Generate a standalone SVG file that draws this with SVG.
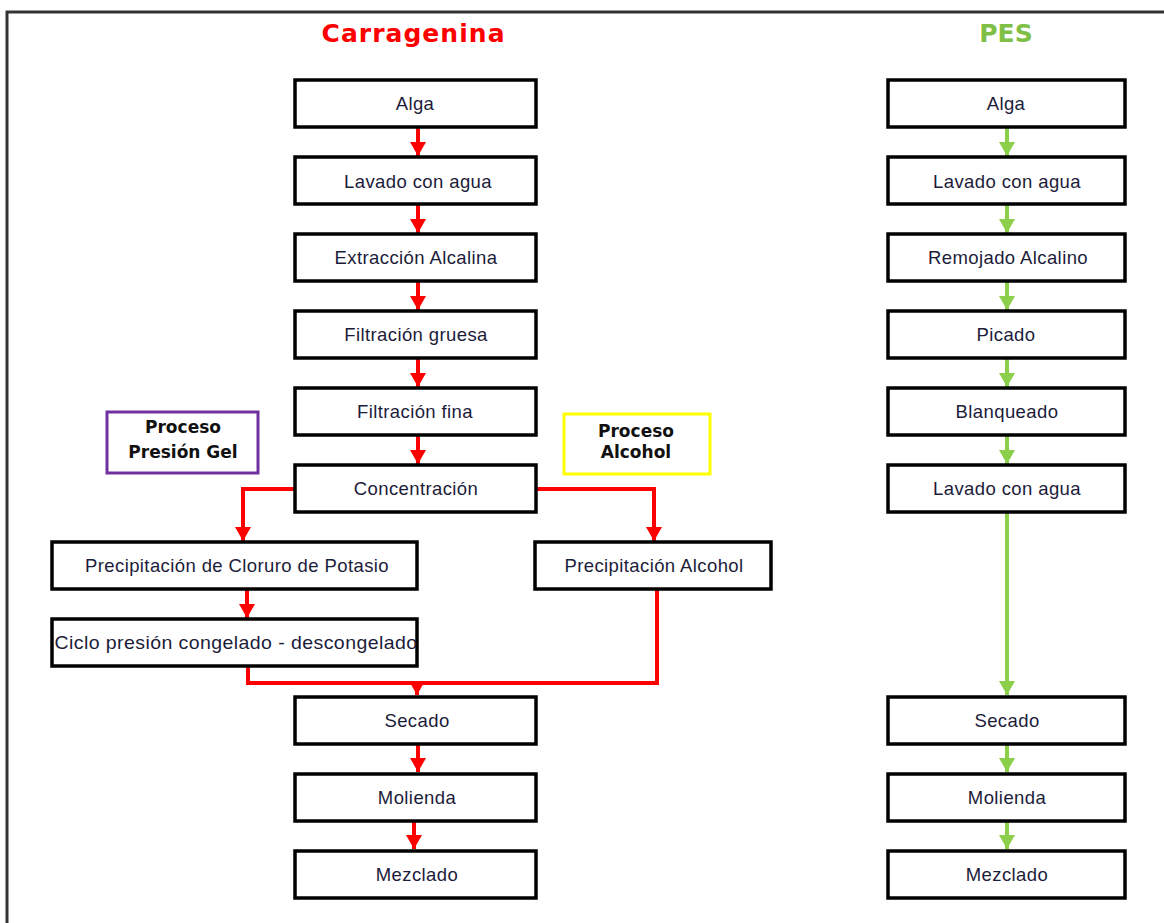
<svg xmlns="http://www.w3.org/2000/svg" width="1164" height="923" viewBox="0 0 1164 923">
<style>
.box{fill:#fff;stroke:#000;stroke-width:3.5}
.t{font-family:"Liberation Sans",Arial,sans-serif;font-size:18.5px;fill:#1c1c3a;text-anchor:middle;letter-spacing:0.4px}
.b{font-family:"DejaVu Sans",Verdana,sans-serif;font-weight:bold;font-size:17px;fill:#111;text-anchor:middle}
.red{fill:none;stroke:#ff0000;stroke-width:4}
.grn{fill:none;stroke:#8ccf4a;stroke-width:4}
</style>
<defs>
<marker id="ar" markerUnits="userSpaceOnUse" markerWidth="16" markerHeight="16" refX="14" refY="8" orient="auto">
<path d="M0,0 L14,8 L0,16 Z" fill="#ff0000"/>
</marker>
<marker id="ag" markerUnits="userSpaceOnUse" markerWidth="16" markerHeight="18" refX="14" refY="8" orient="auto">
<path d="M0,0 L14,8 L0,16 Z" fill="#8ccf4a"/>
</marker>
</defs>
<rect x="0" y="0" width="1164" height="923" fill="#fff"/>
<rect x="7" y="12" width="1180" height="930" fill="none" stroke="#333" stroke-width="3"/>
<text x="413" y="42" font-family="'DejaVu Sans',Verdana,sans-serif" font-weight="bold" font-size="25" fill="#ff0000" text-anchor="middle" textLength="183">Carragenina</text>
<text x="1006" y="42" font-family="'DejaVu Sans',Verdana,sans-serif" font-weight="bold" font-size="25" fill="#7fbf45" text-anchor="middle">PES</text>

<g id="connectors">
<line class="red" x1="418" y1="127" x2="418" y2="156" marker-end="url(#ar)"/>
<line class="red" x1="418" y1="204" x2="418" y2="233" marker-end="url(#ar)"/>
<line class="red" x1="418" y1="281" x2="418" y2="310" marker-end="url(#ar)"/>
<line class="red" x1="418" y1="358" x2="418" y2="387" marker-end="url(#ar)"/>
<line class="red" x1="418" y1="435" x2="418" y2="464" marker-end="url(#ar)"/>
<polyline class="red" points="295,489 243,489 243,541" marker-end="url(#ar)"/>
<polyline class="red" points="537,489 654,489 654,541" marker-end="url(#ar)"/>
<line class="red" x1="247" y1="590" x2="247" y2="618" marker-end="url(#ar)"/>
<polyline class="red" points="248,667 248,683 657,683 657,590"/>
<line class="red" x1="417" y1="683" x2="417" y2="695" marker-end="url(#ar)"/>
<line class="red" x1="418" y1="743" x2="418" y2="772" marker-end="url(#ar)"/>
<line class="red" x1="414" y1="820" x2="414" y2="849" marker-end="url(#ar)"/>

<line class="grn" x1="1007" y1="127" x2="1007" y2="156" marker-end="url(#ag)"/>
<line class="grn" x1="1007" y1="204" x2="1007" y2="233" marker-end="url(#ag)"/>
<line class="grn" x1="1007" y1="281" x2="1007" y2="310" marker-end="url(#ag)"/>
<line class="grn" x1="1007" y1="358" x2="1007" y2="387" marker-end="url(#ag)"/>
<line class="grn" x1="1007" y1="435" x2="1007" y2="464" marker-end="url(#ag)"/>
<line class="grn" x1="1007" y1="512" x2="1007" y2="695" marker-end="url(#ag)"/>
<line class="grn" x1="1007" y1="743" x2="1007" y2="772" marker-end="url(#ag)"/>
<line class="grn" x1="1007" y1="820" x2="1007" y2="849" marker-end="url(#ag)"/>
</g>

<g id="c-alga"><rect class="box" x="295" y="80" width="241" height="47"/><text class="t" x="415" y="110">Alga</text></g>
<g id="c-lavado"><rect class="box" x="295" y="157" width="241" height="47"/><text class="t" x="418" y="188">Lavado con agua</text></g>
<g id="c-extraccion"><rect class="box" x="295" y="234" width="241" height="47"/><text class="t" x="416" y="264">Extracción Alcalina</text></g>
<g id="c-fgruesa"><rect class="box" x="295" y="311" width="241" height="47"/><text class="t" x="416" y="341">Filtración gruesa</text></g>
<g id="c-ffina"><rect class="box" x="295" y="388" width="241" height="47"/><text class="t" x="415" y="418">Filtración fina</text></g>
<g id="c-concentracion"><rect class="box" x="295" y="465" width="241" height="47"/><text class="t" x="416" y="495">Concentración</text></g>
<g id="c-precip-kcl"><rect class="box" x="52" y="542" width="365" height="47"/><text class="t" x="237" y="572">Precipitación de Cloruro de Potasio</text></g>
<g id="c-ciclo"><rect class="box" x="52" y="619" width="365" height="47"/><text class="t" x="236" y="649" textLength="363" lengthAdjust="spacingAndGlyphs">Ciclo presión congelado - descongelado</text></g>
<g id="c-precip-alc"><rect class="box" x="535" y="542" width="236" height="47"/><text class="t" x="654" y="572">Precipitación Alcohol</text></g>
<g id="c-secado"><rect class="box" x="295" y="697" width="241" height="47"/><text class="t" x="417" y="727">Secado</text></g>
<g id="c-molienda"><rect class="box" x="295" y="774" width="241" height="47"/><text class="t" x="417" y="804">Molienda</text></g>
<g id="c-mezclado"><rect class="box" x="295" y="851" width="241" height="47"/><text class="t" x="417" y="881">Mezclado</text></g>

<g id="label-gel"><rect x="107" y="412" width="151" height="61" fill="#fff" stroke="#7030a0" stroke-width="3"/><text class="b" x="183" y="433">Proceso</text><text class="b" x="183" y="458">Presión Gel</text></g>
<g id="label-alcohol"><rect x="564" y="414" width="146" height="60" fill="#fff" stroke="#ffff00" stroke-width="3"/><text class="b" x="636" y="437">Proceso</text><text class="b" x="636" y="458">Alcohol</text></g>

<g id="p-alga"><rect class="box" x="888" y="80" width="237" height="47"/><text class="t" x="1006" y="110">Alga</text></g>
<g id="p-lavado1"><rect class="box" x="888" y="157" width="237" height="47"/><text class="t" x="1007" y="188">Lavado con agua</text></g>
<g id="p-remojado"><rect class="box" x="888" y="234" width="237" height="47"/><text class="t" x="1008" y="264">Remojado Alcalino</text></g>
<g id="p-picado"><rect class="box" x="888" y="311" width="237" height="47"/><text class="t" x="1006" y="341">Picado</text></g>
<g id="p-blanqueado"><rect class="box" x="888" y="388" width="237" height="47"/><text class="t" x="1007" y="418">Blanqueado</text></g>
<g id="p-lavado2"><rect class="box" x="888" y="465" width="237" height="47"/><text class="t" x="1007" y="495">Lavado con agua</text></g>
<g id="p-secado"><rect class="box" x="888" y="697" width="237" height="47"/><text class="t" x="1007" y="727">Secado</text></g>
<g id="p-molienda"><rect class="box" x="888" y="774" width="237" height="47"/><text class="t" x="1007" y="804">Molienda</text></g>
<g id="p-mezclado"><rect class="box" x="888" y="851" width="237" height="47"/><text class="t" x="1007" y="881">Mezclado</text></g>
</svg>
